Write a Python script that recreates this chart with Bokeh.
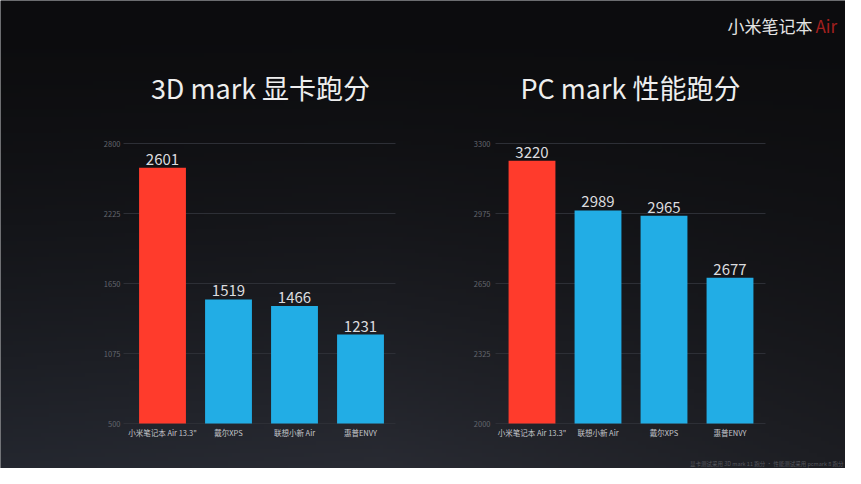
import numpy as np
from bokeh.plotting import figure
from bokeh.models import Range1d
from bokeh.embed import file_html
from bokeh.resources import INLINE
from bokeh.core.properties import value

# ---------------- data ----------------
brand_main = "小米笔记本"
brand_sub = "Air"
footnote = "显卡测试采用 3D mark 11 跑分 · 性能测试采用 pcmark 8 跑分"

gpu_title = "3D mark 显卡跑分"
gpu_labels = ["小米笔记本 Air 13.3\"", "戴尔XPS", "联想小新 Air", "惠普ENVY"]
gpu_values = [2601, 1519, 1466, 1231]
gpu_ticks = [500, 1075, 1650, 2225, 2800]

pc_title = "PC mark 性能跑分"
pc_labels = ["小米笔记本 Air 13.3\"", "联想小新 Air", "戴尔XPS", "惠普ENVY"]
pc_values = [3220, 2989, 2965, 2677]
pc_ticks = [2000, 2325, 2650, 2975, 3300]

# ---------------- layout / style ----------------
W, H = 845, 468
FONT = "Noto Sans CJK SC"
RED = "#ff3b2c"
BLUE = "#22adE5"
PAGE_BG = "#1f2126"

p = figure(width=W, height=H, output_backend="svg", toolbar_location=None,
           x_range=Range1d(0, W), y_range=Range1d(0, H),
           x_axis_location=None, y_axis_location=None, min_border=0)
p.grid.visible = False
p.outline_line_color = None
p.background_fill_color = PAGE_BG
p.border_fill_color = PAGE_BG

# background gradient (styling only)
ny, nx = 117, 212
yy = np.linspace(0, 1, ny)[:, None]          # 0 = bottom row
xx = np.linspace(0, 1, nx)[None, :]
top_c = np.array([12, 12, 14], dtype=float)
left_c = np.array([36, 39, 47], dtype=float)
mid_c = np.array([41, 43, 51], dtype=float)
right_c = np.array([29, 30, 35], dtype=float)
img = np.empty((ny, nx), dtype=np.uint32)
view = img.view(dtype=np.uint8).reshape((ny, nx, 4))
t = (1 - yy) ** 1.5
for k in range(3):
    b = np.where(xx < 0.45,
                 left_c[k] + (mid_c[k] - left_c[k]) * (xx / 0.45),
                 mid_c[k] + (right_c[k] - mid_c[k]) * ((xx - 0.45) / 0.55))
    view[:, :, k] = np.clip(top_c[k] + (b - top_c[k]) * t, 0, 255).astype(np.uint8)
view[:, :, 3] = 255
p.image_rgba(image=[img], x=0, y=0, dw=W, dh=H)


def chart(name, title, labels, values, ticks, c0, grid_x0, grid_x1, tick_x, title_x):
    step = 66.0
    y0_pix, y1_pix = 45.0, 325.0
    vmin, vmax = ticks[0], ticks[-1]
    scale = (vmax - vmin) / (y1_pix - y0_pix)
    p.extra_y_ranges[name + "_v"] = Range1d(vmin - y0_pix * scale, vmax + (H - y1_pix) * scale)
    p.extra_x_ranges[name + "_i"] = Range1d((0 - c0) / step, (W - c0) / step)
    xr, yr = name + "_i", name + "_v"
    idx = list(range(len(values)))
    colors = [RED] + [BLUE] * (len(values) - 1)

    # gridlines
    p.segment(x0=[grid_x0] * len(ticks), x1=[grid_x1] * len(ticks), y0=ticks, y1=ticks,
              y_range_name=yr, line_color="#2d2f36", line_width=1)
    # tick labels
    p.text(x=[tick_x] * len(ticks), y=ticks, text=[str(t) for t in ticks],
           y_range_name=yr, text_align="right", text_baseline="middle",
           text_font=value(FONT), text_font_size="7.5px", text_color="#63666e")
    # bars
    p.vbar(x=idx, top=values, bottom=vmin, width=0.71, x_range_name=xr, y_range_name=yr,
           fill_color=colors, line_color=None)
    # value labels
    p.text(x=idx, y=values, text=[str(v) for v in values], x_range_name=xr, y_range_name=yr,
           text_align="center", text_baseline="bottom", y_offset=-3,
           text_font=value(FONT), text_font_size="15px", text_color="#dcdcdf")
    # category labels
    p.text(x=idx, y=[vmin] * len(idx), text=labels, x_range_name=xr, y_range_name=yr,
           text_align="center", text_baseline="top", y_offset=3,
           text_font=value(FONT), text_font_size="7.5px", text_color="#c4c6cb")
    # chart title
    p.text(x=[title_x], y=[381], text=[title], text_align="center", text_baseline="middle",
           text_font=value(FONT), text_font_size="27px", text_color="#eeeeee")


chart("gpu", gpu_title, gpu_labels, gpu_values, gpu_ticks,
      c0=162.0, grid_x0=123, grid_x1=395, tick_x=120, title_x=260)
chart("pc", pc_title, pc_labels, pc_values, pc_ticks,
      c0=531.5, grid_x0=495, grid_x1=765, tick_x=490, title_x=630)

# brand mark
p.text(x=[812], y=[443], text=[brand_main], text_align="right", text_baseline="middle",
       text_font=value(FONT), text_font_size="17px", text_color="#e4e4e4")
p.text(x=[815], y=[443], text=[brand_sub], text_align="left", text_baseline="middle",
       text_font=value(FONT), text_font_size="17px", text_color="#a3201f")
# footnote
p.text(x=[843], y=[5], text=[footnote], text_align="right", text_baseline="middle",
       text_font=value(FONT), text_font_size="5.5px", text_color="#55575e")

html = file_html(p, INLINE)
html = html.replace("<body>", '<body style="background:%s">' % PAGE_BG, 1)
open("out.html", "w").write(html)
